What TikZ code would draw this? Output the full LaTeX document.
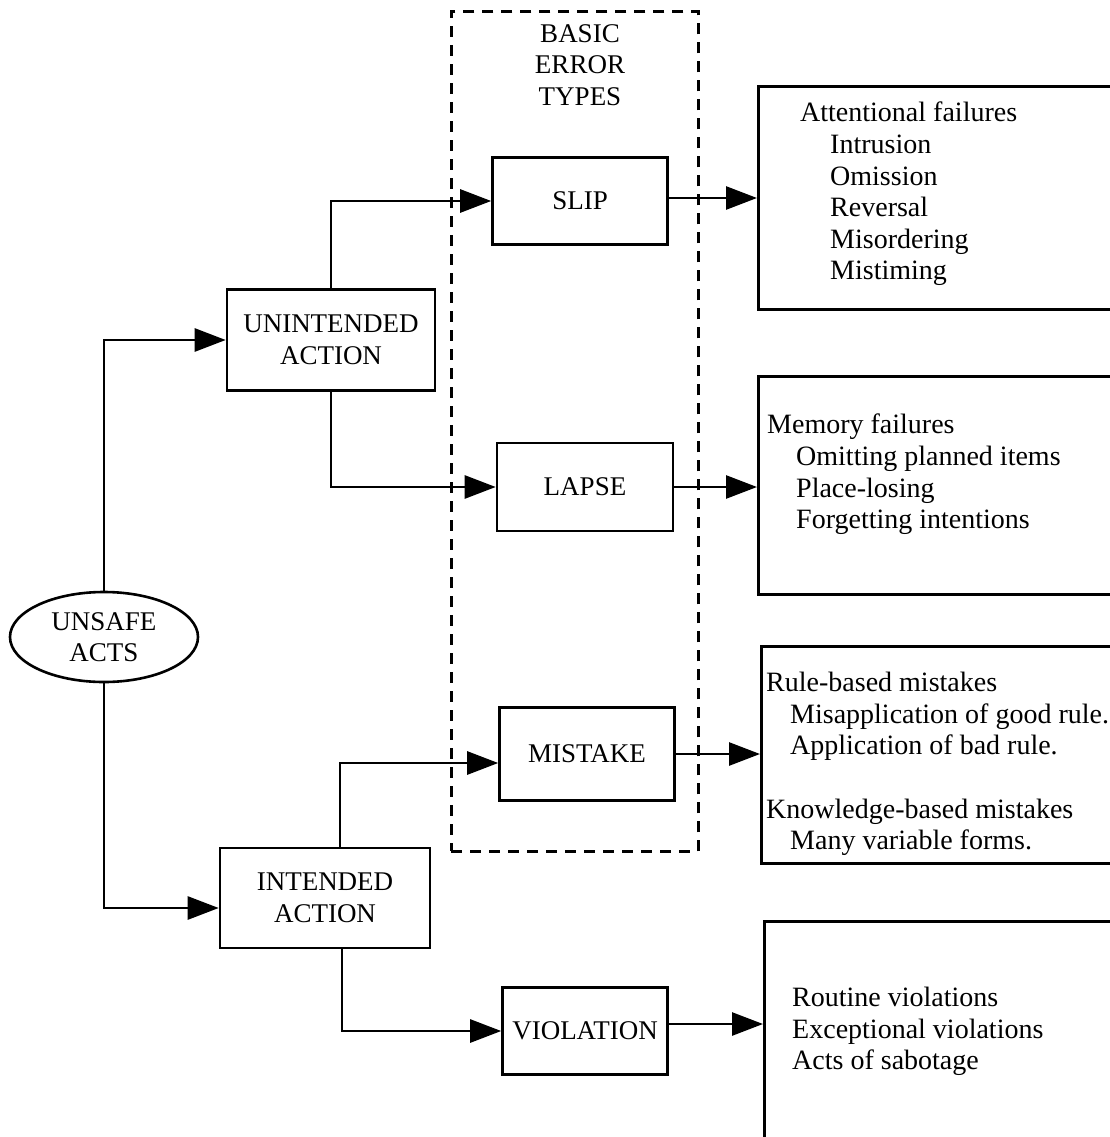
\documentclass[tikz,border=0pt]{standalone}
\usepackage{fontspec}
\setmainfont{Liberation Serif}
\usetikzlibrary{arrows.meta,shapes.geometric}
\begin{document}
\begin{tikzpicture}[x=1pt, y=-1pt,
    every node/.style={font=\fontsize{27}{31.6}\selectfont},
    box/.style={rectangle, draw, line width=2.6pt, align=center},
    list/.style={anchor=north west, align=left, inner sep=0, font=\fontsize{28}{31.6}\selectfont},
    arr/.style={line width=2.7pt, -{Triangle[length=31pt,width=23pt]}}]
    \useasboundingbox (0,0) rectangle (1110,1137);

    % basic error types
    \node[draw, line width=2.6pt, dash pattern=on 11pt off 8pt, minimum width=247, minimum height=840, anchor=north west] (frame) at (450,10) {};
    \node[align=center, inner sep=0] (types) at (580,65) {BASIC\\ERROR\\TYPES};
    \node[box, minimum width=175, minimum height=87] (slip)  at (580,201) {SLIP};
    \node[box, minimum width=176, minimum height=88] (lapse) at (585,487) {LAPSE};
    \node[box, minimum width=175, minimum height=93] (mist)  at (587,754) {MISTAKE};
    \node[box, minimum width=165, minimum height=87, inner sep=2pt] (viol)  at (585,1031) {VIOLATION};

    \node[ellipse, draw, line width=2.6pt, align=center, inner sep=0, minimum width=188, minimum height=90] (acts) at (104,637) {UNSAFE\\ACTS};
    \node[box, minimum width=208, minimum height=101] (unint) at (331,340) {UNINTENDED\\ACTION};
    \node[box, minimum width=210, minimum height=100] (int)   at (325,898) {INTENDED\\ACTION};

    % boxes on the right, open past the page edge
    \node[box, anchor=north west, minimum width=370, minimum height=223] (attbox)  at (757,85)  {};
    \node[box, anchor=north west, minimum width=370, minimum height=218] (membox)  at (757,375) {};
    \node[box, anchor=north west, minimum width=370, minimum height=217] (rulebox) at (760,645) {};
    \node[box, anchor=north west, minimum width=370, minimum height=240] (violbox) at (763,920) {};

    \node[list] (atttext) at (800,102)
        {Attentional failures\\\hspace*{30pt}Intrusion\\\hspace*{30pt}Omission\\\hspace*{30pt}Reversal\\\hspace*{30pt}Misordering\\\hspace*{30pt}Mistiming};
    \node[list] (memtext) at (767,414)
        {Memory failures\\\hspace*{29pt}Omitting planned items\\\hspace*{29pt}Place-losing\\\hspace*{29pt}Forgetting intentions};
    \node[list] (ruletext) at (766,672)
        {Rule-based mistakes\\\hspace*{24pt}Misapplication of good rule.\\\hspace*{24pt}Application of bad rule.\\[31.6pt]Knowledge-based mistakes\\\hspace*{24pt}Many variable forms.};
    \node[list] (violtext) at (792,987)
        {Routine violations\\Exceptional violations\\Acts of sabotage};

    % connectors
    \draw[arr] (acts.north) |- (unint.west);
    \draw[arr] (acts.south) |- ([yshift=-10pt]int.west);
    \draw[arr] (unint.north) |- (slip.west);
    \draw[arr] (unint.south) |- (lapse.west);
    \draw[arr] ([xshift=15pt]int.north) |- ([yshift=-9pt]mist.west);
    \draw[arr] ([xshift=17pt]int.south) |- (viol.west);
    \draw[arr] ([yshift=3pt]slip.east) -- ([yshift=3pt]slip.east -| attbox.west);
    \draw[arr] (lapse.east) -- (lapse.east -| membox.west);
    \draw[arr] (mist.east) -- (mist.east -| rulebox.west);
    \draw[arr] ([yshift=7pt]viol.east) -- ([yshift=7pt]viol.east -| violbox.west);
\end{tikzpicture}
\end{document}
